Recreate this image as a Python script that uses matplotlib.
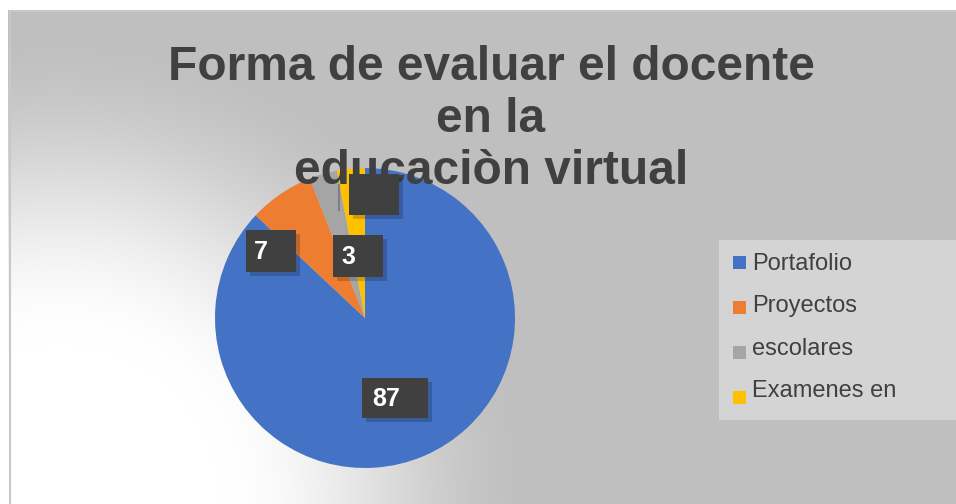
import matplotlib
matplotlib.use("Agg")
import matplotlib.pyplot as plt
import matplotlib.patheffects as pe
from matplotlib.patches import Rectangle
import numpy as np

plt.rcParams['font.family'] = ['Liberation Sans', 'DejaVu Sans']

# data
categories = ['Portafolio', 'Proyectos', 'escolares', 'Examenes en']
values = [87, 7, 3, 3]
value_labels = ['87', '7', '3', '']
colors = ['#4472C4', '#ED7D31', '#A5A5A5', '#FFC000']
title_lines = ['Forma de evaluar el docente', 'en la', 'educaciòn virtual']

W, H = 956, 504
fig = plt.figure(figsize=(W / 100, H / 100), dpi=100)
ax = fig.add_axes([0, 0, 1, 1])

# background gradient (pixel coords, y flipped)
xx, yy = np.meshgrid(np.arange(8, W), np.arange(10, H))
d = np.hypot(xx - 60, yy - 504)
t = np.clip((d - 160) / 320.0, 0, 1)
t = t * t * (3 - 2 * t)
g = (255 - t * (255 - 191)) / 255.0
bg = np.dstack([g, g, g])
ax.imshow(bg, extent=[8, W, 0, H - 10], origin='upper', zorder=0)
# border only on left and top
ax.plot([10, 10, W], [0, H - 10.5, H - 10.5], color='#c8c8c8', lw=1.5, zorder=1)

# pie
cx, cy, r = 365, H - 318, 150
wedges, _ = ax.pie(values, colors=colors, startangle=90, counterclock=False,
                   center=(cx, cy), radius=r, frame=True,
                   wedgeprops=dict(linewidth=0))
for w in wedges:
    w.set_zorder(2)

# title
title_y = [80, 132, 184]
for line, py in zip(title_lines, title_y):
    ax.text(491, H - py, line, ha='center', va='baseline', fontsize=34.5,
            fontweight='bold', color='#404040', zorder=3)

# leader line
ax.plot([339, 339], [H - 185, H - 210], color='#7f7f7f', lw=1.5, zorder=3)

# data label boxes
boxes = [(362, 378, 428, 418, 372), (246, 230, 296, 272, 254),
         (333, 235, 383, 277, 341), (349, 174, 399, 215, 360)]
for lab, (x0, y0, x1, y1, tx) in zip(value_labels, boxes):
    rect = Rectangle((x0, H - y1), x1 - x0, y1 - y0, fc='#404040', ec='none', zorder=4)
    rect.set_path_effects([pe.SimplePatchShadow(offset=(3, -3), alpha=0.18, shadow_rgbFace='k'),
                           pe.Normal()])
    ax.add_patch(rect)
    ax.text(tx, H - (y0 + y1) / 2 - 1, lab, ha='left', va='center', fontsize=18,
            fontweight='bold', color='white', zorder=5)

# legend
ax.add_patch(Rectangle((719, H - 420), 240, 180, fc='#d4d4d4', ec='none', zorder=3))
for i, (cat, c) in enumerate(zip(categories, colors)):
    sq_top = 256 + 45 * i
    ax.add_patch(Rectangle((733, H - sq_top - 13), 13, 13, fc=c, ec='none', zorder=4))
    ax.text(752, H - (270 + 42.3 * i), cat, ha='left', va='baseline', fontsize=17,
            color='#404040', zorder=4)

ax.set_xlim(0, W)
ax.set_ylim(0, H)
ax.set_aspect('auto')
ax.axis('off')

fig.savefig('out.png', dpi=100, facecolor='white')
